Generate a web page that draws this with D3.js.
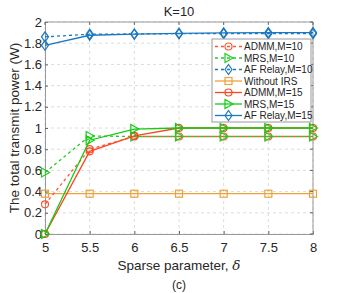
<!DOCTYPE html>
<html lang="en">
<head>
  <meta charset="UTF-8">
  <title>K=10</title>
  <script src="https://d3js.org/d3.v7.min.js"></script>
  <style>
    body { margin: 0; background: #fff; }
    text { font-family: "Liberation Sans", Arial, sans-serif; fill: #262626; }
  </style>
</head>
<body>
  <div id="chart"></div>
  <script>
    const width = 346;
    const height = 293;
    const margin = { left: 45, right: 33, top: 22, bottom: 59 };

    const deltas = [5, 5.5, 6, 6.5, 7, 7.5, 8];
    const xTicks = [5, 5.5, 6, 6.5, 7, 7.5, 8];
    const yTicks = [0, 0.2, 0.4, 0.6, 0.8, 1, 1.2, 1.4, 1.6, 1.8, 2];

    const admmM10 = [0.28, 0.80, 0.92, 0.92, 0.92, 0.92, 0.92];
    const mrsM10 = [0.58, 0.925, 0.92, 0.92, 0.92, 0.92, 0.92];
    const afM10 = [1.86, 1.885, 1.887, 1.89, 1.89, 1.89, 1.89];
    const withoutIrs = [0.38, 0.38, 0.38, 0.38, 0.38, 0.38, 0.38];
    const admmM15 = [0, 0.78, 0.925, 1.0, 1.0, 1.0, 1.0];
    const mrsM15 = [0, 0.885, 0.99, 1.0, 1.0, 1.0, 1.0];
    const afM15 = [1.78, 1.875, 1.885, 1.893, 1.898, 1.9, 1.9];

    const series = [
      { name: "ADMM,M=10", values: admmM10, color: "#ff5533", dash: "3,3", marker: "circle" },
      { name: "MRS,M=10", values: mrsM10, color: "#22cc22", dash: "3,3", marker: "triangle" },
      { name: "AF Relay,M=10", values: afM10, color: "#1a78c2", dash: "3,3", marker: "diamond" },
      { name: "Without IRS", values: withoutIrs, color: "#eda33a", dash: null, marker: "square" },
      { name: "ADMM,M=15", values: admmM15, color: "#ff4422", dash: null, marker: "circle" },
      { name: "MRS,M=15", values: mrsM15, color: "#11cc11", dash: null, marker: "triangle" },
      { name: "AF Relay,M=15", values: afM15, color: "#1a78c2", dash: null, marker: "diamond" }
    ];

    const svg = d3.select("#chart")
      .append("svg")
      .attr("width", width)
      .attr("height", height);

    const x = d3.scaleLinear()
      .domain([5, 8])
      .range([margin.left, width - margin.right]);

    const y = d3.scaleLinear()
      .domain([0, 2])
      .range([height - margin.bottom, margin.top]);

    // grid
    svg.append("g")
      .selectAll("line")
      .data(xTicks)
      .enter()
      .append("line")
      .attr("x1", d => x(d)).attr("x2", d => x(d))
      .attr("y1", y(0)).attr("y2", y(2))
      .attr("stroke", "#dcdcdc")
      .attr("stroke-dasharray", "3,3");

    svg.append("g")
      .selectAll("line")
      .data(yTicks)
      .enter()
      .append("line")
      .attr("x1", x(5)).attr("x2", x(8))
      .attr("y1", d => y(d)).attr("y2", d => y(d))
      .attr("stroke", "#dcdcdc")
      .attr("stroke-dasharray", "3,3");

    // axes
    const xAxis = d3.axisBottom(x).tickValues(xTicks).tickSize(-3).tickPadding(9)
      .tickFormat(d3.format("~g"));
    const yAxis = d3.axisLeft(y).tickValues(yTicks).tickSize(-3).tickPadding(3)
      .tickFormat(d3.format("~g"));

    const gx = svg.append("g")
      .attr("transform", `translate(0, ${y(0)})`)
      .call(xAxis);
    const gy = svg.append("g")
      .attr("transform", `translate(${x(5)}, 0)`)
      .call(yAxis);

    [gx, gy].forEach(g => {
      g.select(".domain").attr("stroke", "#999");
      g.selectAll(".tick line").attr("stroke", "#666");
      g.selectAll(".tick text").attr("font-size", 13).attr("fill", "#262626");
    });

    svg.append("line")
      .attr("x1", x(5)).attr("x2", x(8))
      .attr("y1", y(2)).attr("y2", y(2))
      .attr("stroke", "#999");
    svg.append("line")
      .attr("x1", x(8)).attr("x2", x(8))
      .attr("y1", y(0)).attr("y2", y(2))
      .attr("stroke", "#999");
    svg.append("g")
      .selectAll("line")
      .data(xTicks)
      .enter()
      .append("line")
      .attr("x1", d => x(d)).attr("x2", d => x(d))
      .attr("y1", y(2)).attr("y2", y(2) + 3)
      .attr("stroke", "#666");
    svg.append("g")
      .selectAll("line")
      .data(yTicks)
      .enter()
      .append("line")
      .attr("x1", x(8)).attr("x2", x(8) - 3)
      .attr("y1", d => y(d)).attr("y2", d => y(d))
      .attr("stroke", "#666");

    // markers
    function drawMarker(g, type, cx, cy, color) {
      if (type === "circle") {
        g.append("circle").attr("cx", cx).attr("cy", cy).attr("r", 3.5)
          .attr("fill", "none").attr("stroke", color).attr("stroke-width", 1.2);
      } else if (type === "triangle") {
        g.append("path")
          .attr("d", `M${cx - 3.5},${cy - 4.5}L${cx + 4.5},${cy}L${cx - 3.5},${cy + 4.5}Z`)
          .attr("fill", "none").attr("stroke", color).attr("stroke-width", 1.2);
      } else if (type === "diamond") {
        g.append("path")
          .attr("d", `M${cx},${cy - 5}L${cx + 3.5},${cy}L${cx},${cy + 5}L${cx - 3.5},${cy}Z`)
          .attr("fill", "none").attr("stroke", color).attr("stroke-width", 1.2);
      } else if (type === "square") {
        g.append("rect").attr("x", cx - 3.5).attr("y", cy - 3.5)
          .attr("width", 7).attr("height", 7)
          .attr("fill", "none").attr("stroke", color).attr("stroke-width", 1.2);
      }
    }

    const line = d3.line()
      .x((d, i) => x(deltas[i]))
      .y(d => y(d));

    const drawOrder = [3, 0, 1, 2, 4, 5, 6];
    drawOrder.forEach(k => {
      const s = series[k];
      const g = svg.append("g");
      g.append("path")
        .datum(s.values)
        .attr("d", line)
        .attr("fill", "none")
        .attr("stroke", s.color)
        .attr("stroke-width", 1.3)
        .attr("stroke-dasharray", s.dash);
      s.values.forEach((v, i) => drawMarker(g, s.marker, x(deltas[i]), y(v), s.color));
    });

    // legend
    const legend = svg.append("g").attr("transform", "translate(212, 39)");
    legend.append("rect")
      .attr("width", 99).attr("height", 83)
      .attr("fill", "#fff").attr("stroke", "#999");
    series.forEach((s, i) => {
      const ly = 7.5 + i * 11.5;
      legend.append("line")
        .attr("x1", 3).attr("x2", 30)
        .attr("y1", ly).attr("y2", ly)
        .attr("stroke", s.color)
        .attr("stroke-width", 1.3)
        .attr("stroke-dasharray", s.dash);
      drawMarker(legend, s.marker, 16.5, ly, s.color);
      legend.append("text")
        .attr("x", 32).attr("y", ly + 3.5)
        .attr("font-size", 10)
        .text(s.name);
    });

    // titles
    svg.append("text")
      .attr("x", (x(5) + x(8)) / 2).attr("y", 16)
      .attr("text-anchor", "middle")
      .attr("font-size", 13)
      .text("K=10");

    svg.append("text")
      .attr("transform", `translate(19, ${(y(0) + y(2)) / 2}) rotate(-90)`)
      .attr("text-anchor", "middle")
      .attr("font-size", 13.5)
      .text("The total transmit power (W)");

    const xl = svg.append("text")
      .attr("x", (x(5) + x(8)) / 2).attr("y", 270)
      .attr("text-anchor", "middle")
      .attr("font-size", 13.5);
    xl.append("tspan").text("Sparse parameter, ");
    xl.append("tspan").attr("font-style", "italic").attr("font-family", "DejaVu Serif").text("δ");

    svg.append("text")
      .attr("x", (x(5) + x(8)) / 2).attr("y", 289)
      .attr("text-anchor", "middle")
      .attr("font-size", 12)
      .text("(c)");
  </script>
</body>
</html>
